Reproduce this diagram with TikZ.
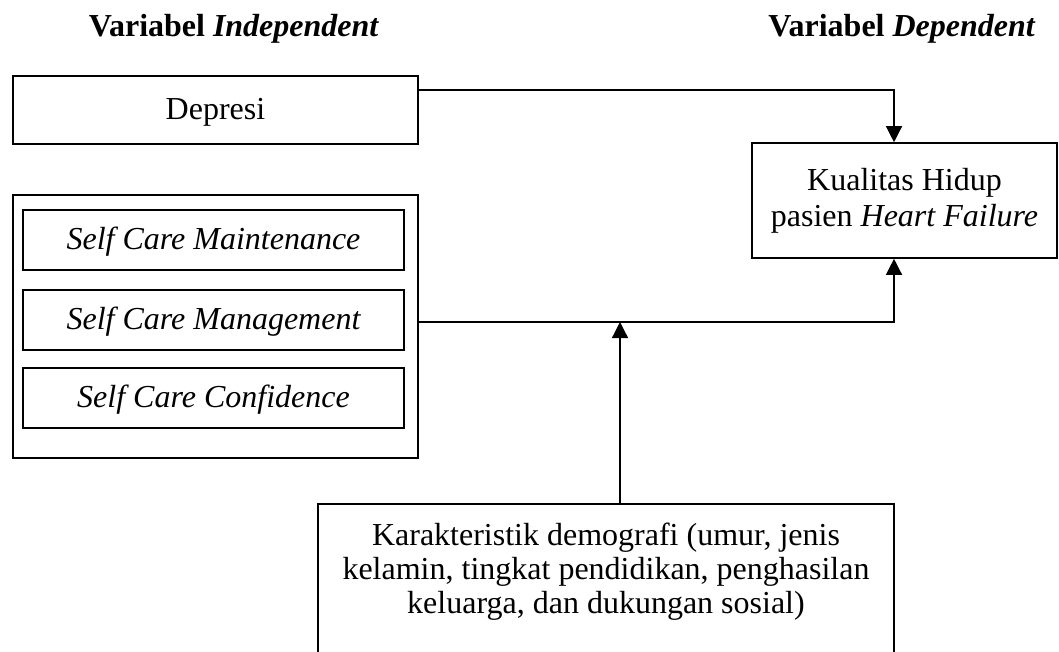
\documentclass[tikz,border=0pt]{standalone}
\usepackage{fontspec}
\setmainfont{Liberation Serif}
\usetikzlibrary{arrows.meta}
\tikzset{
  boxnode/.style={draw=black, line width=1.2pt, inner sep=0pt, align=center},
  onebox/.style={boxnode, text height=17pt, text depth=3.5pt},
  conn/.style={draw=black, line width=1pt},
  arr/.style={conn, -{Triangle[width=12pt,length=12pt]}},
  txt/.style={inner sep=0pt, align=center}
}
\begin{document}
\begin{tikzpicture}[x=0.75pt,y=-0.75pt,font=\fontsize{24}{27}\selectfont]
\clip (0,0) rectangle (1059,651);
\fill[white] (0,0) rectangle (1059,651);

% titles
\node[txt, anchor=base] (t1) at (234,36) {\textbf{Variabel \textit{Independent}}};
\node[txt, anchor=base] (t2) at (902,36) {\textbf{Variabel \textit{Dependent}}};

% boxes
\node[onebox, minimum width=303.75pt, minimum height=51pt] (dep) at (215.5,110) {Depresi};
\node[boxnode, minimum width=303.75pt, minimum height=197.25pt] (sc) at (215.5,326.5) {};
\node[onebox, minimum width=285.75pt, minimum height=45pt, font=\fontsize{24}{27}\selectfont\itshape] (scm) at (213.5,240) {Self Care Maintenance};
\node[onebox, minimum width=285.75pt, minimum height=45pt, font=\fontsize{24}{27}\selectfont\itshape] (scg) at (213.5,320) {Self Care Management};
\node[onebox, minimum width=285.75pt, minimum height=45pt, font=\fontsize{24}{27}\selectfont\itshape] (scc) at (213.5,398) {Self Care Confidence};
\node[boxnode, minimum width=228.75pt, minimum height=86.25pt] (kh) at (904.5,200.5) {Kualitas Hidup\\pasien \textit{Heart Failure}};
\node[boxnode, minimum width=432pt, minimum height=200pt, anchor=north] (demo) at (606,503) {};
\node[txt, anchor=north, font=\fontsize{24}{25.5}\selectfont] (demotxt) at (606,523) {Karakteristik demografi (umur, jenis\\kelamin, tingkat pendidikan, penghasilan\\keluarga, dan dukungan sosial)};

% connectors
\coordinate (d1) at (894,90);
\coordinate (d2) at (894,322);
\coordinate (d3) at (620,322);
\draw[arr] (dep.east |- d1) -- (d1) -- (kh.north -| d1);
\draw[arr] (sc.east |- d2) -- (d2) -- (kh.south -| d2);
\draw[arr] (demo.north -| d3) -- (d3);
\end{tikzpicture}
\end{document}
